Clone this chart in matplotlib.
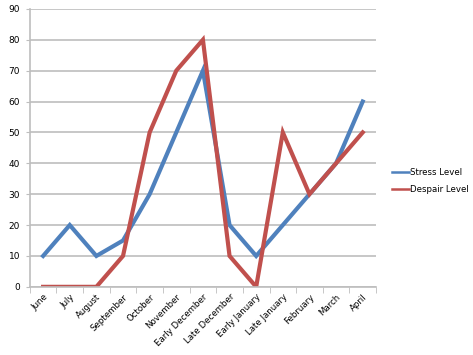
import matplotlib
matplotlib.use("Agg")
import matplotlib.pyplot as plt
import numpy as np

months = ["June", "July", "August", "September", "October", "November",
          "Early December", "Late December", "Early January", "Late January",
          "February", "March", "April"]
stress = [10, 20, 10, 15, 30, 50, 70, 20, 10, 20, 30, 40, 60]
despair = [0, 0, 0, 10, 50, 70, 80, 10, 0, 50, 30, 40, 50]

grid_col = "#BEBEBE"

fig = plt.figure(figsize=(4.73, 3.55), dpi=100)
ax = fig.add_axes([0.063, 0.192, 0.732, 0.783])

x = np.arange(len(months))
ax.plot(x, stress, color="#4F81BD", lw=3.0, label="Stress Level", solid_joinstyle="miter")
ax.plot(x, despair, color="#C0504D", lw=3.0, label="Despair Level", solid_joinstyle="miter")

ax.set_xlim(-0.5, len(months) - 0.5)
ax.set_ylim(0, 90)
ax.set_yticks(range(0, 91, 10))
ax.yaxis.grid(True, color=grid_col, lw=1.2)
ax.set_axisbelow(True)

ax.set_xticks(x)
ax.set_xticklabels(months, rotation=45, ha="right", rotation_mode="anchor", fontsize=6.2)
ax.set_xticks(np.arange(-0.5, len(months)), minor=True)
ax.tick_params(axis="x", which="major", length=0, pad=4)
ax.tick_params(axis="x", which="minor", length=4, color=grid_col, direction="out")
ax.tick_params(axis="y", length=3, color=grid_col, labelsize=6.5, pad=4)

for s in ["top", "right"]:
    ax.spines[s].set_visible(False)
for s in ["left", "bottom"]:
    ax.spines[s].set_color(grid_col)
    ax.spines[s].set_linewidth(1.2)

leg = ax.legend(loc="center left", bbox_to_anchor=(1.045, 0.38), frameon=False,
                borderpad=0, borderaxespad=0, fontsize=6.2, handlelength=2.0,
                handletextpad=0.1, labelspacing=0.9)
for line in leg.get_lines():
    line.set_linewidth(1.8)

fig.savefig("out.png", dpi=100)
